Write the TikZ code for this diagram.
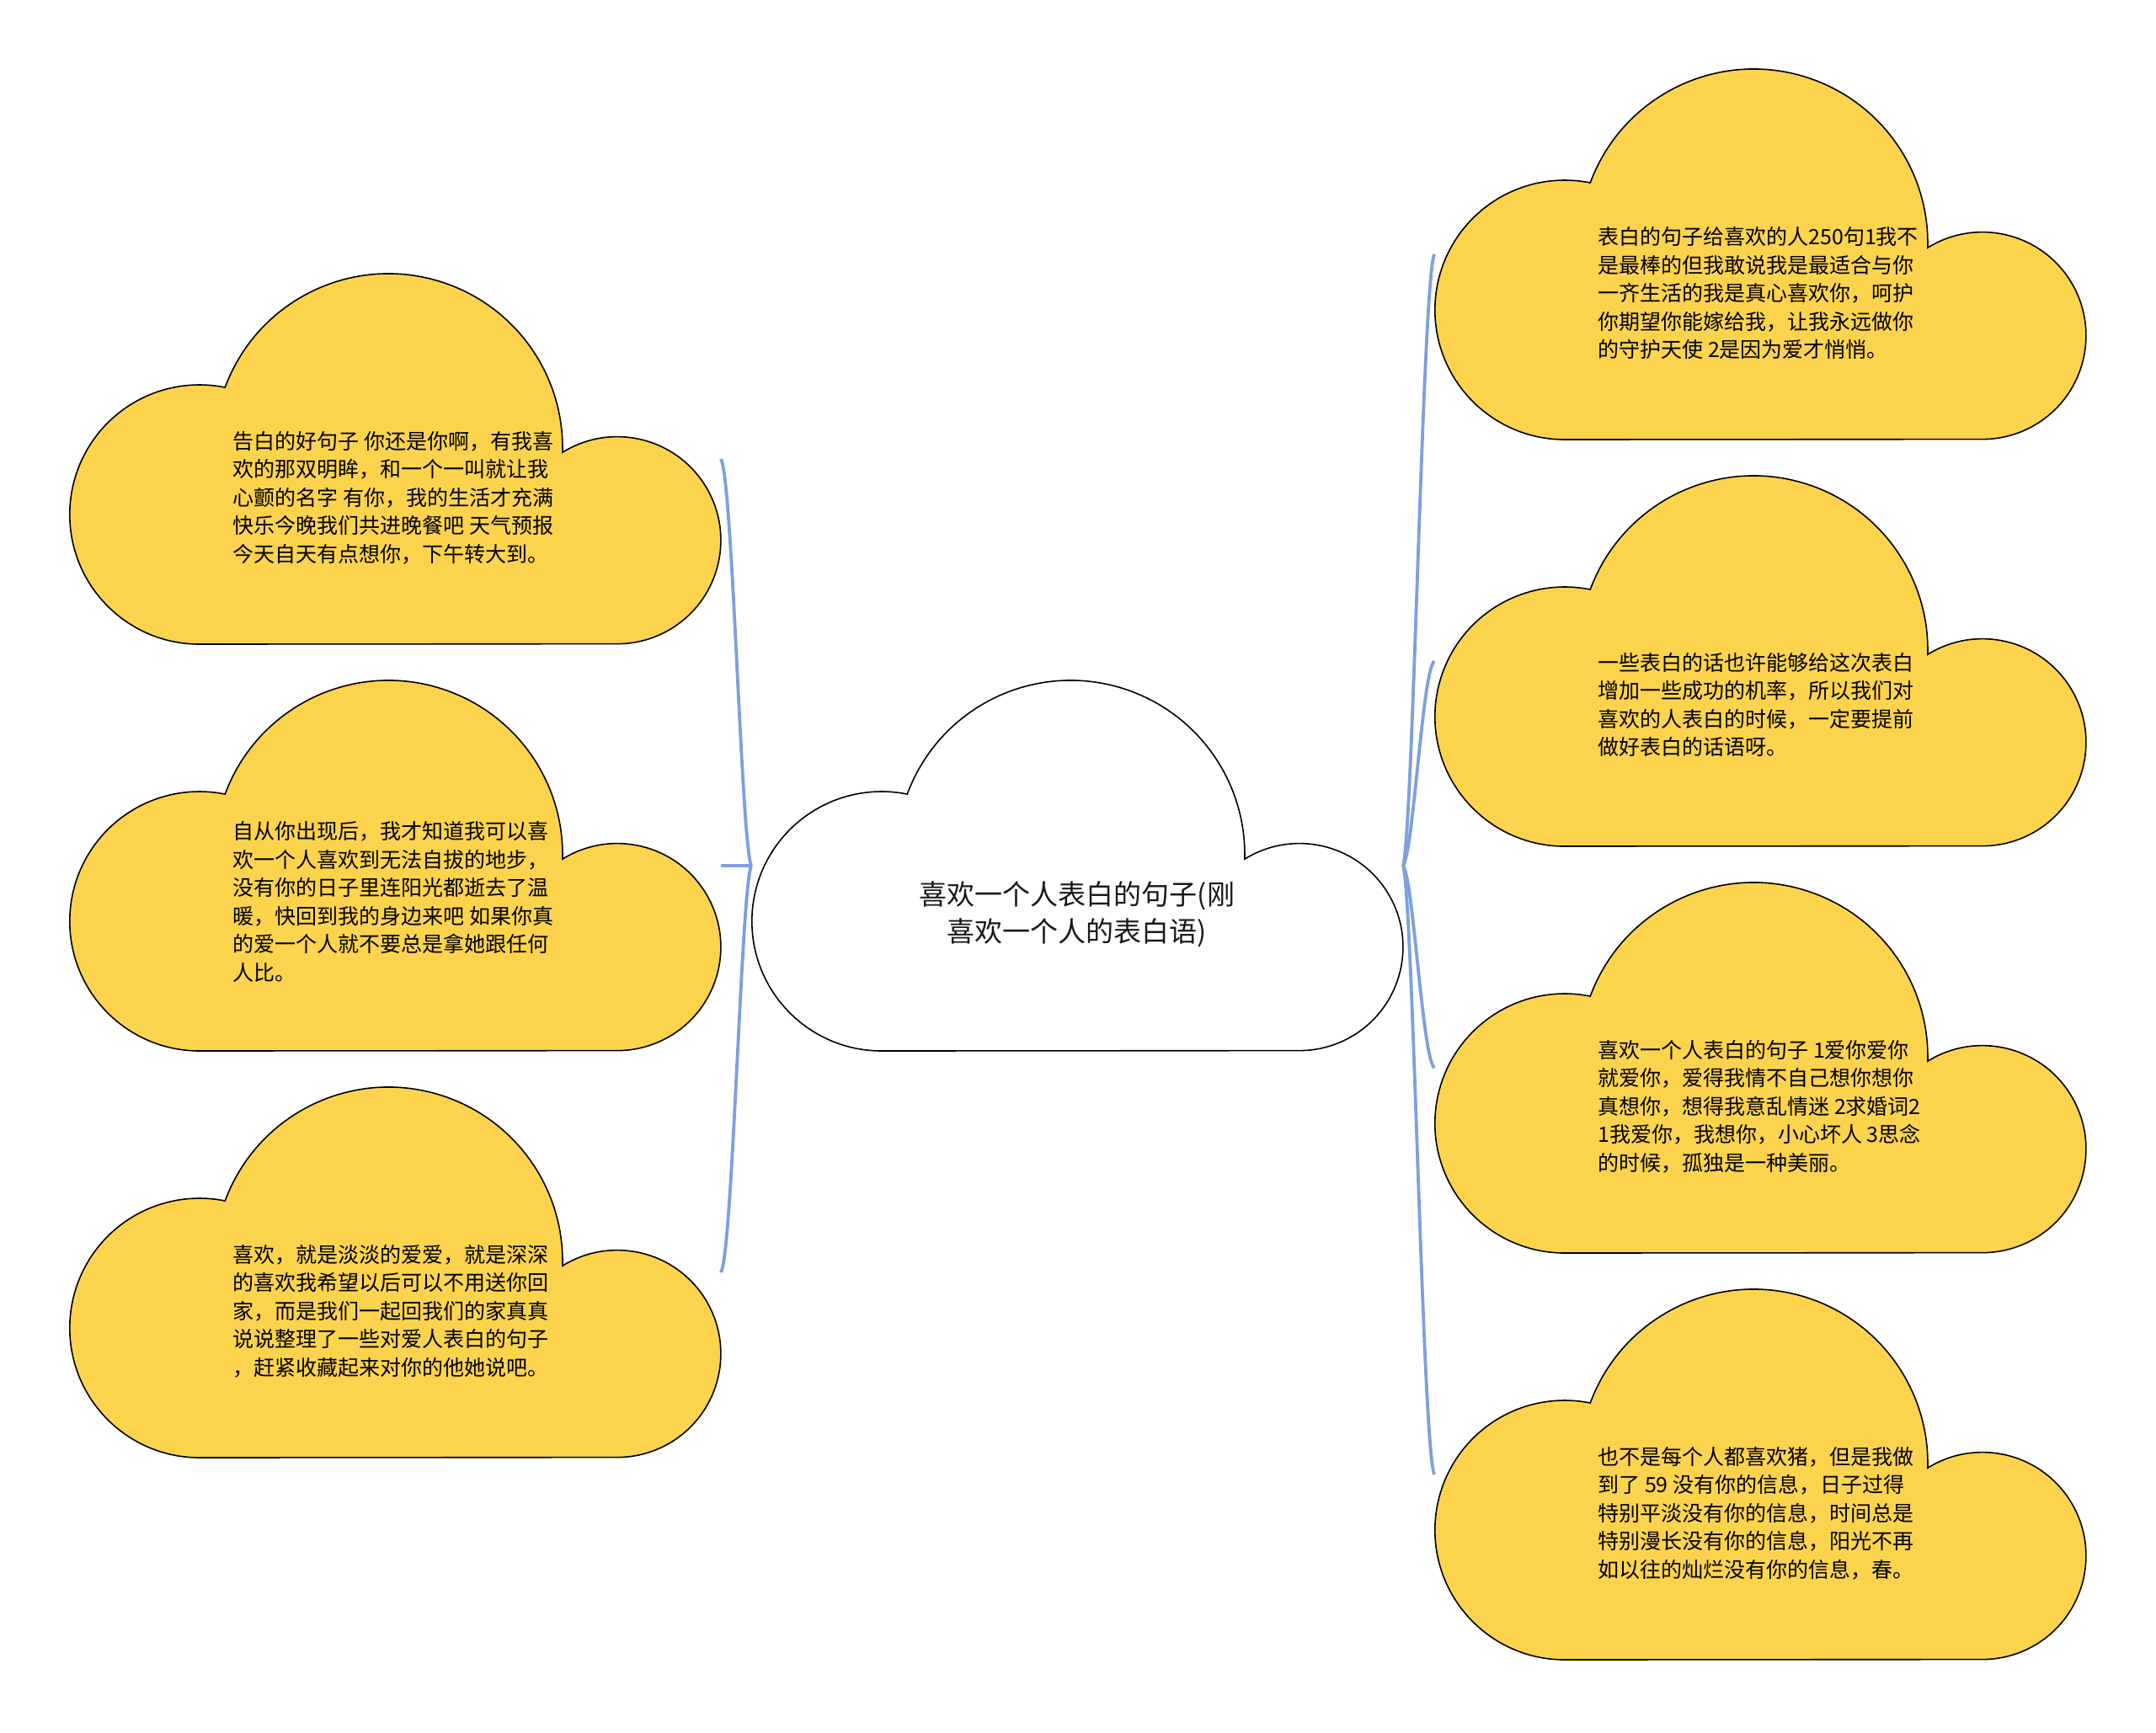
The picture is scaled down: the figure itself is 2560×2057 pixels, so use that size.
\documentclass[tikz,border=0pt]{standalone}
\usepackage{fontspec}
\newfontfamily\cjk{Noto Sans CJK SC}
\definecolor{cloudyellow}{RGB}{252,211,77}
\definecolor{linkblue}{RGB}{126,160,220}
\newcommand\cloudshape[2]{%
  \begin{scope}[shift={(#1.south west)}]
    \filldraw[#2] (77.4pt,0pt)
      arc[start angle=270, end angle=78.6, radius=77pt]
      arc[start angle=159.7, end angle=-1.5, radius=103.4pt]
      arc[start angle=121.9, end angle=-90, radius=61.5pt]
      -- cycle;
  \end{scope}}
\begin{document}
\begin{tikzpicture}[x=0.5pt,y=-0.5pt,
  cloudbox/.style={minimum width=387pt,minimum height=220pt,inner sep=0pt,outer sep=0pt},
  yellowcloud/.style={fill=cloudyellow,draw=black,line width=0.8pt},
  whitecloud/.style={fill=white,draw=black,line width=0.8pt},
  conn/.style={draw=linkblue,line width=1.9pt},
  leaftext/.style={anchor=west,align=left,inner sep=0pt,text=black,
    font=\cjk\fontsize{12.5pt}{16.75pt}\selectfont},
  roottext/.style={anchor=center,align=center,inner sep=0pt,text=black!90,
    font=\cjk\fontsize{16.5pt}{22pt}\selectfont}]
\useasboundingbox[fill=white] (0,0) rectangle (2560,2057);

% cloud frames (named)
\node[cloudbox] (C)  at (1279,1028) {};
\node[cloudbox] (L1) at (469,545) {};
\node[cloudbox] (L2) at (469,1028) {};
\node[cloudbox] (L3) at (469,1511) {};
\node[cloudbox] (R1) at (2090,302) {};
\node[cloudbox] (R2) at (2090,785) {};
\node[cloudbox] (R3) at (2090,1268) {};
\node[cloudbox] (R4) at (2090,1751) {};

% connectors
\draw[conn] (C.west) .. controls +(-12,-29) and +(14,24) .. (L1.east);
\draw[conn] (C.west) -- (L2.east);
\draw[conn] (C.west) .. controls +(-12,29) and +(14,-24) .. (L3.east);
\draw[conn] (C.east) .. controls +(12,-44) and +(-14,36) .. (R1.west);
\draw[conn] (C.east) .. controls +(12,-15) and +(-14,12) .. (R2.west);
\draw[conn] (C.east) .. controls +(12,15) and +(-14,-12) .. (R3.west);
\draw[conn] (C.east) .. controls +(12,44) and +(-14,-36) .. (R4.west);

% clouds
\cloudshape{C}{whitecloud}
\cloudshape{L1}{yellowcloud}
\cloudshape{L2}{yellowcloud}
\cloudshape{L3}{yellowcloud}
\cloudshape{R1}{yellowcloud}
\cloudshape{R2}{yellowcloud}
\cloudshape{R3}{yellowcloud}
\cloudshape{R4}{yellowcloud}

% texts
\node[roottext] (Ct) at ([shift={(0,278)}]C.north) {喜欢一个人表白的句子(刚\\喜欢一个人的表白语)};

\node[leaftext] (L1t) at ([shift={(194,266)}]L1.north west) {告白的好句子 你还是你啊，有我喜\\欢的那双明眸，和一个一叫就让我\\心颤的名字 有你，我的生活才充满\\快乐今晚我们共进晚餐吧 天气预报\\今天自天有点想你，下午转大到。};
\node[leaftext] (L2t) at ([shift={(194,263)}]L2.north west) {自从你出现后，我才知道我可以喜\\欢一个人喜欢到无法自拔的地步，\\没有你的日子里连阳光都逝去了温\\暖，快回到我的身边来吧 如果你真\\的爱一个人就不要总是拿她跟任何\\人比。};
\node[leaftext] (L3t) at ([shift={(194,266)}]L3.north west) {喜欢，就是淡淡的爱爱，就是深深\\的喜欢我希望以后可以不用送你回\\家，而是我们一起回我们的家真真\\说说整理了一些对爱人表白的句子\\，赶紧收藏起来对你的他她说吧。};

\node[leaftext] (R1t) at ([shift={(194,266)}]R1.north west) {表白的句子给喜欢的人250句1我不\\是最棒的但我敢说我是最适合与你\\一齐生活的我是真心喜欢你，呵护\\你期望你能嫁给我，让我永远做你\\的守护天使 2是因为爱才悄悄。};
\node[leaftext] (R2t) at ([shift={(194,272)}]R2.north west) {一些表白的话也许能够给这次表白\\增加一些成功的机率，所以我们对\\喜欢的人表白的时候，一定要提前\\做好表白的话语呀。};
\node[leaftext] (R3t) at ([shift={(194,266)}]R3.north west) {喜欢一个人表白的句子 1爱你爱你\\就爱你，爱得我情不自己想你想你\\真想你，想得我意乱情迷 2求婚词2\\1我爱你，我想你，小心坏人 3思念\\的时候，孤独是一种美丽。};
\node[leaftext] (R4t) at ([shift={(194,266)}]R4.north west) {也不是每个人都喜欢猪，但是我做\\到了 59 没有你的信息，日子过得\\特别平淡没有你的信息，时间总是\\特别漫长没有你的信息，阳光不再\\如以往的灿烂没有你的信息，春。};
\end{tikzpicture}
\end{document}
